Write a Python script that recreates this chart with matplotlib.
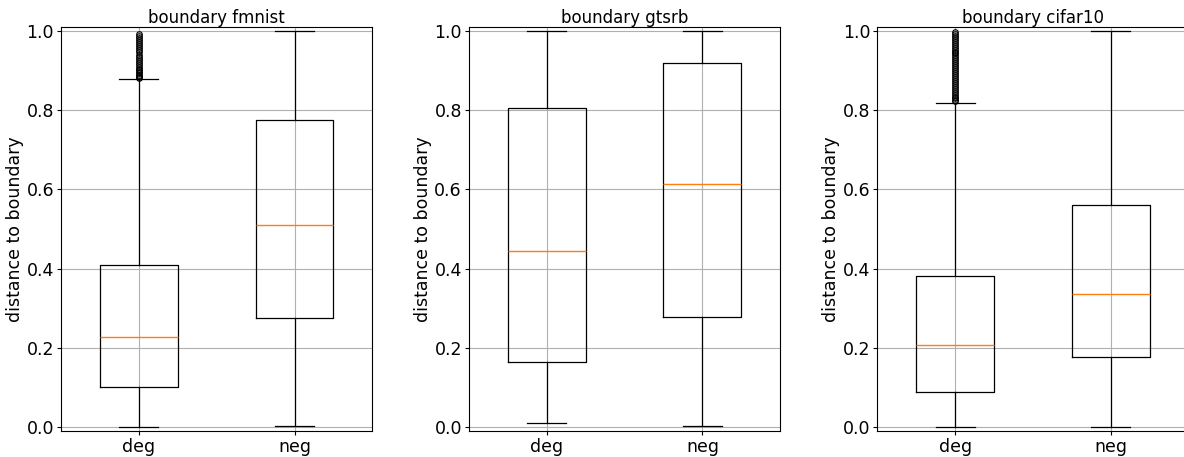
import matplotlib
matplotlib.use('Agg')
import matplotlib.pyplot as plt

titles = ['boundary fmnist', 'boundary gtsrb', 'boundary cifar10']
groups = ['deg', 'neg']

# whislo, q1, median, q3, whishi per group
fmnist_deg = [0.0, 0.10, 0.227, 0.41, 0.878]
fmnist_neg = [0.002, 0.275, 0.51, 0.775, 1.0]
gtsrb_deg = [0.01, 0.164, 0.444, 0.805, 1.0]
gtsrb_neg = [0.002, 0.277, 0.614, 0.92, 1.0]
cifar_deg = [0.0, 0.088, 0.207, 0.381, 0.818]
cifar_neg = [0.0, 0.177, 0.335, 0.56, 1.0]

fmnist_deg_fliers = [0.880, 0.883, 0.886, 0.889, 0.893, 0.897, 0.901, 0.905,
                     0.910, 0.915, 0.920, 0.925, 0.930, 0.935, 0.940, 0.946,
                     0.952, 0.958, 0.963, 0.968, 0.973, 0.978, 0.983, 0.988,
                     0.993]
cifar_deg_fliers = [0.822, 0.826, 0.830, 0.834, 0.838, 0.843, 0.848, 0.853,
                    0.858, 0.863, 0.868, 0.873, 0.878, 0.883, 0.888, 0.893,
                    0.898, 0.903, 0.908, 0.913, 0.918, 0.923, 0.928, 0.933,
                    0.938, 0.943, 0.948, 0.953, 0.958, 0.963, 0.968, 0.973,
                    0.978, 0.983, 0.988, 0.993, 0.998]

panels = [
    (fmnist_deg, fmnist_deg_fliers, fmnist_neg, []),
    (gtsrb_deg, [], gtsrb_neg, []),
    (cifar_deg, cifar_deg_fliers, cifar_neg, []),
]


def make_stats(vals, fliers, label):
    lo, q1, med, q3, hi = vals
    return dict(whislo=lo, q1=q1, med=med, q3=q3, whishi=hi,
                fliers=fliers, label=label)


fig = plt.figure(figsize=(11.84, 4.57), dpi=100)
lefts = [0.0515, 0.396, 0.741]
for i, (title, (dv, df, nv, nf)) in enumerate(zip(titles, panels)):
    ax = fig.add_axes([lefts[i], 0.057, 0.263, 0.884])
    stats = [make_stats(dv, df, groups[0]), make_stats(nv, nf, groups[1])]
    ax.bxp(stats, showfliers=True, widths=0.5,
           boxprops=dict(linewidth=0.9), whiskerprops=dict(linewidth=0.9),
           capprops=dict(linewidth=0.9),
           flierprops=dict(marker='o', markerfacecolor='none',
                           markeredgecolor='black', markersize=4,
                           markeredgewidth=0.8))
    ax.set_ylim(-0.01, 1.01)
    ax.set_title(title, fontsize=12, pad=2)
    ax.set_ylabel('distance to boundary', fontsize=12.5, labelpad=2)
    ax.tick_params(labelsize=12.5, length=3, pad=2)
    ax.grid(True, color='#b0b0b0', linewidth=0.8)

fig.savefig('out.png', dpi=100)
